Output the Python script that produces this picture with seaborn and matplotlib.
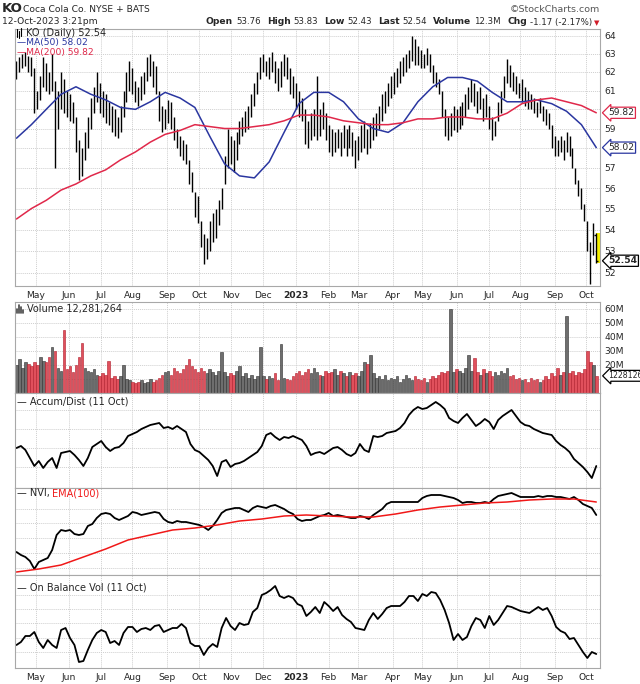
import numpy as np
import pandas as pd
import matplotlib
matplotlib.use('Agg')
import matplotlib.pyplot as plt
from matplotlib.lines import Line2D
import seaborn as sns

sns.set_style('white')
plt.rcParams['font.family'] = ['DejaVu Sans']


###
### DATA
###

# business days shown on the chart
days = pd.bdate_range('2022-04-13', '2023-10-12')

# price bars, one bar for every two sessions
price_high = [62.6, 62.8, 63.0, 63.1, 62.9, 62.8, 62.2, 61.0, 61.8, 62.8,
              62.5, 62.0, 63.0, 61.5, 61.0, 62.0, 61.6, 61.0, 60.8, 60.4,
              59.6, 58.4, 58.0, 58.8, 59.6, 60.6, 61.2, 62.0, 61.4, 61.0,
              60.8, 60.4, 60.2, 60.0, 59.6, 60.2, 61.0, 62.0, 62.6, 62.2,
              61.5, 61.2, 61.8, 62.0, 62.8, 63.0, 62.6, 62.3, 61.0, 60.2,
              60.0, 60.5, 60.4, 59.6, 59.0, 58.6, 58.4, 58.2, 57.4, 56.8,
              55.8, 55.6, 54.4, 53.8, 53.6, 54.4, 54.8, 55.0, 55.4, 56.0,
              57.6, 59.0, 58.6, 58.4, 58.8, 59.4, 59.6, 59.9, 60.2, 60.8,
              61.4, 62.0, 62.8, 63.0, 62.6, 62.8, 63.1, 62.6, 62.2, 62.6,
              63.0, 62.8, 62.2, 61.8, 61.4, 61.0, 60.6, 60.0, 59.4, 59.8,
              60.0, 61.8, 60.0, 60.4, 59.8, 59.2, 59.0, 58.8, 59.0, 58.8,
              59.2, 59.0, 59.2, 58.8, 58.4, 58.6, 59.2, 59.4, 59.0, 59.3,
              59.6, 59.8, 60.2, 60.8, 61.0, 61.4, 61.8, 62.0, 62.2, 62.6,
              62.8, 63.0, 63.2, 64.0, 63.8, 63.4, 63.2, 63.0, 63.3, 63.0,
              62.4, 62.0, 61.6, 61.0, 60.0, 59.6, 59.8, 60.2, 60.0, 60.2,
              60.4, 60.8, 61.2, 61.6, 61.4, 61.0, 61.2, 60.6, 60.8, 60.2,
              59.6, 59.4, 60.4, 61.0, 61.8, 62.7, 62.4, 62.0, 61.8, 61.4,
              61.6, 61.2, 61.0, 60.8, 60.6, 60.4, 60.6, 60.2, 60.0, 59.8,
              59.2, 58.6, 58.4, 58.6, 58.4, 58.8, 58.6, 58.0, 57.0, 56.4,
              56.0, 55.2, 54.4, 53.4, 54.3, 53.83]
price_low = [61.6, 62.0, 62.2, 62.3, 62.0, 61.8, 59.8, 60.0, 60.5, 61.2,
             61.0, 60.8, 61.0, 57.0, 59.0, 60.0, 59.8, 59.6, 59.4, 59.3,
             57.8, 56.4, 56.6, 57.4, 58.0, 59.0, 59.8, 60.4, 59.8, 59.6,
             59.3, 59.2, 58.8, 58.6, 58.5, 58.8, 59.6, 60.4, 61.0, 60.8,
             60.4, 60.2, 60.5, 60.8, 61.5, 61.8, 61.2, 60.8, 59.4, 58.8,
             59.0, 59.3, 59.0, 58.4, 58.0, 57.6, 57.4, 57.2, 56.2, 55.8,
             54.6, 54.3, 53.2, 52.4, 52.6, 53.0, 53.4, 53.6, 54.2, 55.0,
             56.2, 57.0, 57.2, 56.8, 57.4, 58.2, 58.6, 58.8, 59.0, 59.6,
             60.2, 60.8, 61.6, 62.0, 61.8, 61.6, 62.0, 61.4, 61.0, 61.2,
             61.8, 61.6, 60.8, 60.6, 60.0, 59.6, 59.4, 58.2, 58.0, 58.4,
             58.6, 58.4, 58.6, 59.0, 58.4, 57.8, 57.6, 57.8, 58.0, 57.6,
             58.0, 57.6, 58.0, 57.6, 57.0, 57.4, 57.8, 58.0, 57.7, 58.0,
             58.4, 58.6, 59.0, 59.4, 59.8, 60.2, 60.6, 60.8, 61.2, 61.4,
             61.8, 62.0, 62.2, 62.6, 62.4, 62.4, 62.2, 62.2, 62.4, 62.0,
             61.4, 61.2, 60.8, 59.6, 58.6, 58.4, 58.6, 58.9, 58.8, 59.0,
             59.2, 59.6, 60.0, 60.4, 60.2, 59.8, 60.0, 59.4, 59.6, 59.0,
             58.4, 58.6, 59.4, 59.8, 60.6, 61.4, 61.2, 61.0, 60.8, 60.6,
             60.4, 60.2, 60.0, 60.0, 59.8, 59.6, 59.8, 59.4, 59.2, 59.0,
             58.0, 57.6, 57.6, 57.8, 57.4, 57.8, 57.6, 57.0, 56.2, 55.6,
             55.0, 54.4, 53.0, 51.5, 52.8, 52.43]
last_open, last_close = 53.76, 52.54

# moving averages, one point every ten sessions
ma50 = [58.5, 59.2, 60.0, 60.8, 61.2, 60.8, 60.5, 60.1, 60.0, 60.4,
        60.9, 60.6, 60.1, 58.6, 57.2, 56.6, 56.5, 57.3, 58.8, 60.3,
        60.9, 60.9, 60.4, 59.5, 59.0, 58.8, 59.3, 60.4, 61.2, 61.7,
        61.7, 61.5, 60.9, 60.4, 60.4, 60.5, 60.3, 59.9, 59.2, 58.02]
ma200 = [54.5, 55.0, 55.4, 55.9, 56.2, 56.6, 56.9, 57.4, 57.8, 58.3,
         58.7, 58.9, 59.2, 59.1, 59.0, 59.0, 59.1, 59.2, 59.4, 59.7,
         59.7, 59.6, 59.4, 59.3, 59.2, 59.2, 59.3, 59.5, 59.5, 59.6,
         59.6, 59.5, 59.5, 59.8, 60.3, 60.5, 60.6, 60.4, 60.2, 59.82]

# volume in millions, one bar for every two sessions
volume = [20, 24, 18, 22, 21, 19, 22, 20, 26, 23,
          22, 26, 33, 30, 18, 16, 45, 17, 19, 15,
          20, 26, 36, 18, 16, 15, 17, 13, 12, 14,
          13, 23, 11, 12, 10, 12, 20, 10, 9, 8,
          7, 8, 9, 7, 8, 10, 8, 9, 11, 13,
          15, 16, 13, 18, 16, 14, 17, 20, 24, 19,
          17, 15, 18, 16, 14, 17, 15, 13, 16, 29,
          15, 12, 14, 13, 16, 19, 12, 14, 11, 13,
          10, 12, 33, 12, 10, 12, 11, 14, 9, 35,
          11, 10, 9, 12, 14, 16, 13, 15, 17, 14,
          18, 15, 13, 12, 16, 14, 15, 17, 13, 16,
          14, 12, 15, 13, 14, 12, 16, 22, 21, 27,
          14, 11, 12, 10, 13, 9, 11, 10, 12, 8,
          10, 13, 11, 9, 12, 10, 9, 11, 8, 10,
          12, 11, 13, 15, 14, 16, 60, 15, 17, 16,
          14, 18, 27, 16, 25, 15, 13, 17, 14, 16,
          12, 15, 13, 16, 14, 18, 12, 13, 10, 11,
          9, 10, 8, 11, 9, 10, 8, 9, 12, 10,
          14, 12, 18, 13, 15, 55, 14, 16, 13, 15,
          14, 17, 30, 22, 20, 12.28]

# indicators (relative units), one point every three sessions
accum_dist = [40, 42, 38, 30, 22, 27, 20, 26, 30, 20,
              35, 36, 37, 33, 28, 22, 30, 41, 44, 47,
              41, 37, 40, 41, 45, 52, 54, 56, 59, 61,
              63, 64, 65, 60, 61, 59, 62, 59, 56, 44,
              38, 36, 32, 28, 22, 12, 26, 28, 21, 24,
              25, 27, 30, 33, 36, 42, 53, 55, 51, 48,
              51, 50, 52, 50, 48, 42, 33, 35, 36, 34,
              37, 40, 41, 38, 34, 32, 35, 44, 38, 36,
              52, 51, 52, 55, 56, 57, 60, 65, 73, 78,
              81, 79, 80, 83, 86, 83, 79, 70, 67, 65,
              70, 74, 68, 62, 65, 69, 66, 59, 68, 72,
              75, 78, 72, 66, 63, 62, 59, 57, 55, 54,
              53, 47, 43, 40, 36, 29, 25, 21, 16, 10, 22]
nvi = [23, 20, 18, 14, 6, 13, 15, 17, 25, 40,
       45, 44, 45, 41, 40, 41, 49, 51, 57, 61,
       62, 61, 57, 55, 57, 59, 63, 62, 60, 61,
       62, 63, 62, 56, 53, 52, 54, 53, 53, 52,
       51, 50, 48, 45, 49, 55, 62, 65, 66, 67,
       67, 65, 63, 67, 69, 68, 67, 69, 70, 68,
       66, 63, 61, 56, 54, 55, 55, 57, 59, 60,
       62, 59, 60, 59, 58, 57, 57, 59, 58, 56,
       60, 63, 66, 71, 73, 73, 73, 73, 73, 73,
       73, 77, 79, 80, 80, 80, 79, 78, 77, 75,
       72, 73, 73, 72, 72, 73, 72, 76, 79, 80,
       81, 82, 80, 78, 78, 78, 78, 79, 78, 79,
       79, 78, 78, 77, 76, 78, 75, 71, 69, 67, 60]
obv = [23, 26, 32, 32, 36, 26, 20, 28, 23, 20,
       38, 40, 30, 23, 6, 7, 18, 28, 35, 38,
       36, 25, 27, 23, 35, 41, 41, 36, 39, 40,
       38, 42, 43, 36, 38, 40, 40, 44, 40, 25,
       22, 22, 13, 20, 24, 21, 40, 50, 42, 38,
       45, 43, 44, 56, 60, 73, 75, 78, 82, 72,
       70, 72, 70, 64, 62, 52, 56, 61, 55, 66,
       62, 57, 61, 53, 49, 46, 40, 39, 38, 48,
       55, 49, 54, 60, 62, 62, 62, 66, 72, 72,
       67, 74, 72, 76, 75, 68, 58, 45, 28, 34,
       28, 31, 42, 50, 48, 40, 52, 43, 48, 55,
       62, 61, 59, 57, 56, 55, 58, 61, 58, 60,
       52, 41, 37, 35, 29, 30, 23, 16, 10, 16, 14]

# EMA(100) of the NVI, one point every fifteen sessions
nvi_ema = [3, 6, 10, 18, 26, 35, 40, 45, 47, 50,
           54, 56, 59, 60, 59, 58, 58, 61, 65, 68,
           70, 72, 73, 75, 76, 76, 73]


###
### SHAPE
###

day_x = np.arange(len(days))
bar_x = day_x[::2]
ind_x = day_x[::3]
ma_x = day_x[::10]
ema_x = day_x[::15]

high = np.array(price_high)
low = np.array(price_low)
vol = np.array(volume) * 1e6

# red volume bar when the bar sits lower than the one before
mid = (high + low) / 2
down = np.r_[False, mid[1:] < mid[:-1]]
vol_fc = np.where(down, '#e0505c', '#6e6e6e')
vol_ec = np.where(down, '#b01c2a', '#2e2e2e')

month_pos, month_lab = [], []
for i in range(1, len(days)):
    if days[i].month != days[i - 1].month:
        month_pos.append(i)
        month_lab.append('2023' if days[i].month == 1 else days[i].strftime('%b'))


###
### PLOT
###

W, H = 640, 684
fig = plt.figure(figsize=(6.4, 6.84), dpi=100)


def panel(top, bottom):
    return fig.add_axes([15 / W, 1 - bottom / H, 585 / W, (bottom - top) / H])


ax_p = panel(29, 286)
ax_v = panel(302, 393)
ax_ad = panel(393, 488)
ax_nvi = panel(488, 575)
ax_obv = panel(575, 668)
axes = [ax_p, ax_v, ax_ad, ax_nvi, ax_obv]

grid_kw = dict(color='#cfcfcf', linestyle=(0, (1, 1)), linewidth=0.7)
for ax in axes:
    ax.set_xlim(-1, 392.5)
    ax.set_xticks(month_pos)
    ax.set_xticklabels(month_lab)
    ax.grid(True, **grid_kw)
    ax.set_axisbelow(True)
    ax.tick_params(length=0, labelsize=6.6, pad=3.5, labelbottom=False,
                   labelleft=False, labelright=False)
    for s in ax.spines.values():
        s.set_color('#a8a8a8')
        s.set_linewidth(0.8)

for ax in [ax_p, ax_obv]:
    ax.tick_params(axis='x', labelbottom=True)
    for lab in ax.get_xticklabels():
        if lab.get_text() == '2023':
            lab.set_fontweight('bold')

# price panel
ax_p.set_yscale('log')
ax_p.vlines(bar_x[:-1], low[:-1], high[:-1], color='black', linewidth=1.0)
ax_p.bar(bar_x[-1] + 1.2, high[-1] - low[-1], bottom=low[-1], width=2.6,
         color='#f4f000', edgecolor='none', zorder=2)
ax_p.vlines(bar_x[-1], low[-1], high[-1], color='black', linewidth=1.0, zorder=3)
ax_p.hlines([last_open], bar_x[-1] - 1.2, bar_x[-1], color='black', linewidth=1)
ax_p.hlines([last_close], bar_x[-1], bar_x[-1] + 1.2, color='black', linewidth=1)
sns.lineplot(x=ma_x, y=ma50, ax=ax_p, color='#2a36a0', linewidth=1.1)
sns.lineplot(x=ma_x, y=ma200, ax=ax_p, color='#e0284a', linewidth=1.1)
ax_p.set_ylim(51.39, 64.38)
price_ticks = list(range(52, 65))
ax_p.yaxis.set_minor_locator(matplotlib.ticker.NullLocator())
ax_p.set_yticks(price_ticks)
# 58 and 60 sit under the MA value tags
ax_p.set_yticklabels(['' if t in (58, 60) else str(t) for t in price_ticks])
ax_p.yaxis.tick_right()
ax_p.tick_params(axis='y', labelright=True, pad=3)

# volume panel
ax_v.bar(bar_x, vol, width=1.7, color=vol_fc, edgecolor=vol_ec, linewidth=0.4)
ax_v.set_ylim(0, 65e6)
ax_v.set_yticks([10e6, 20e6, 30e6, 40e6, 50e6, 60e6])
ax_v.set_yticklabels(['', '20M', '30M', '40M', '50M', '60M'])
ax_v.yaxis.tick_right()
ax_v.tick_params(axis='y', labelright=True, pad=3)

# indicator panels
sns.lineplot(x=ind_x, y=accum_dist, ax=ax_ad, color='black', linewidth=1.3)
ax_ad.set_ylim(0, 95)
ax_ad.set_yticks([21, 40, 59, 78])

sns.lineplot(x=ind_x, y=nvi, ax=ax_nvi, color='black', linewidth=1.3)
sns.lineplot(x=ema_x, y=nvi_ema, ax=ax_nvi, color='#f01818', linewidth=1.1)
ax_nvi.set_ylim(0, 87)
ax_nvi.set_yticks([7, 22, 37, 52, 66])

sns.lineplot(x=ind_x, y=obv, ax=ax_obv, color='black', linewidth=1.3)
ax_obv.set_ylim(0, 93)
ax_obv.set_yticks([16, 30, 45, 59, 73])

for ax in axes:
    ax.set_xlabel('')
    ax.set_ylabel('')


def tag(ax, y, text, ec, bold=False, size=6.6):
    ax.annotate(text, xy=(1, y), xycoords=('axes fraction', 'data'),
                xytext=(6, 0), textcoords='offset points', ha='left', va='center',
                fontsize=size, fontweight='bold' if bold else 'normal',
                bbox=dict(boxstyle='larrow,pad=0.12', fc='white', ec=ec, lw=0.9),
                annotation_clip=False)


tag(ax_p, ma200[-1], '59.82', '#e0284a')
tag(ax_p, ma50[-1], '58.02', '#2a36a0')
tag(ax_p, last_close, '52.54', 'black', bold=True)
tag(ax_v, vol[-1], '12281264', 'black', size=5.6)


# header and panel legends, placed in pixel coordinates
def ftext(x, y, s, **kw):
    kw.setdefault('fontsize', 6.6)
    return fig.text(x / W, 1 - y / H, s, va='center', ha=kw.pop('ha', 'left'), **kw)


ftext(2, 8, 'KO', fontsize=9.5, fontweight='bold')
ftext(23, 9, 'Coca Cola Co. NYSE + BATS', fontsize=6.6)
ftext(600, 9, '\u00a9StockCharts.com', ha='right', color='#555555', fontsize=6.8)
ftext(2, 22, '12-Oct-2023 3:21pm')

# quote line: bold label, value, laid out left to right and ending near the right edge
quote = [('Open', '53.76'), ('High', '53.83'), ('Low', '52.43'), ('Last', '52.54'),
         ('Volume', '12.3M'), ('Chg', '-1.17 (-2.17%)')]
renderer = fig.canvas.get_renderer()
pieces = []
for lab, val in quote:
    pieces.append(ftext(0, 22, lab, fontsize=6.6, fontweight='bold'))
    pieces.append(ftext(0, 22, val, fontsize=6.2))
widths = [p.get_window_extent(renderer).width for p in pieces]
gaps = [3 if k % 2 == 0 else 6 for k in range(len(pieces))]
total = sum(widths) + sum(gaps[:-1])
x = 592 - total
for p, w, g in zip(pieces, widths, gaps):
    p.set_x(x / W)
    x += w + g
ftext(594, 23, '\u25bc', color='#d01c28', fontsize=5)

# little chart icons in front of the first two legends
for dx, y0, y1 in [(17, 29, 37), (19, 31, 38), (21, 28, 36)]:
    fig.add_artist(Line2D([dx / W, dx / W], [1 - y0 / H, 1 - y1 / H], color='black', lw=0.8))
for dx, y0 in [(17, 309), (19, 305), (21, 307), (23, 310)]:
    fig.add_artist(Line2D([dx / W, dx / W], [1 - y0 / H, 1 - 313 / H], color='#444444', lw=1.2))

ftext(26, 33, 'KO (Daily) 52.54', fontsize=7)
ftext(17, 43, '\u2014MA(50) 58.02', color='#2a36a0')
ftext(17, 53, '\u2014MA(200) 59.82', color='#e0284a')
ftext(27, 309, 'Volume 12,281,264', fontsize=7)
ftext(17, 401, '\u2014 Accum/Dist (11 Oct)', fontsize=7)
ftext(17, 493, '\u2014 NVI,', fontsize=7)
ftext(52, 493, 'EMA(100)', fontsize=7, color='#f01818')
ftext(17, 588, '\u2014 On Balance Vol (11 Oct)', fontsize=7)

fig.savefig('out.png', dpi=100, facecolor='white')
